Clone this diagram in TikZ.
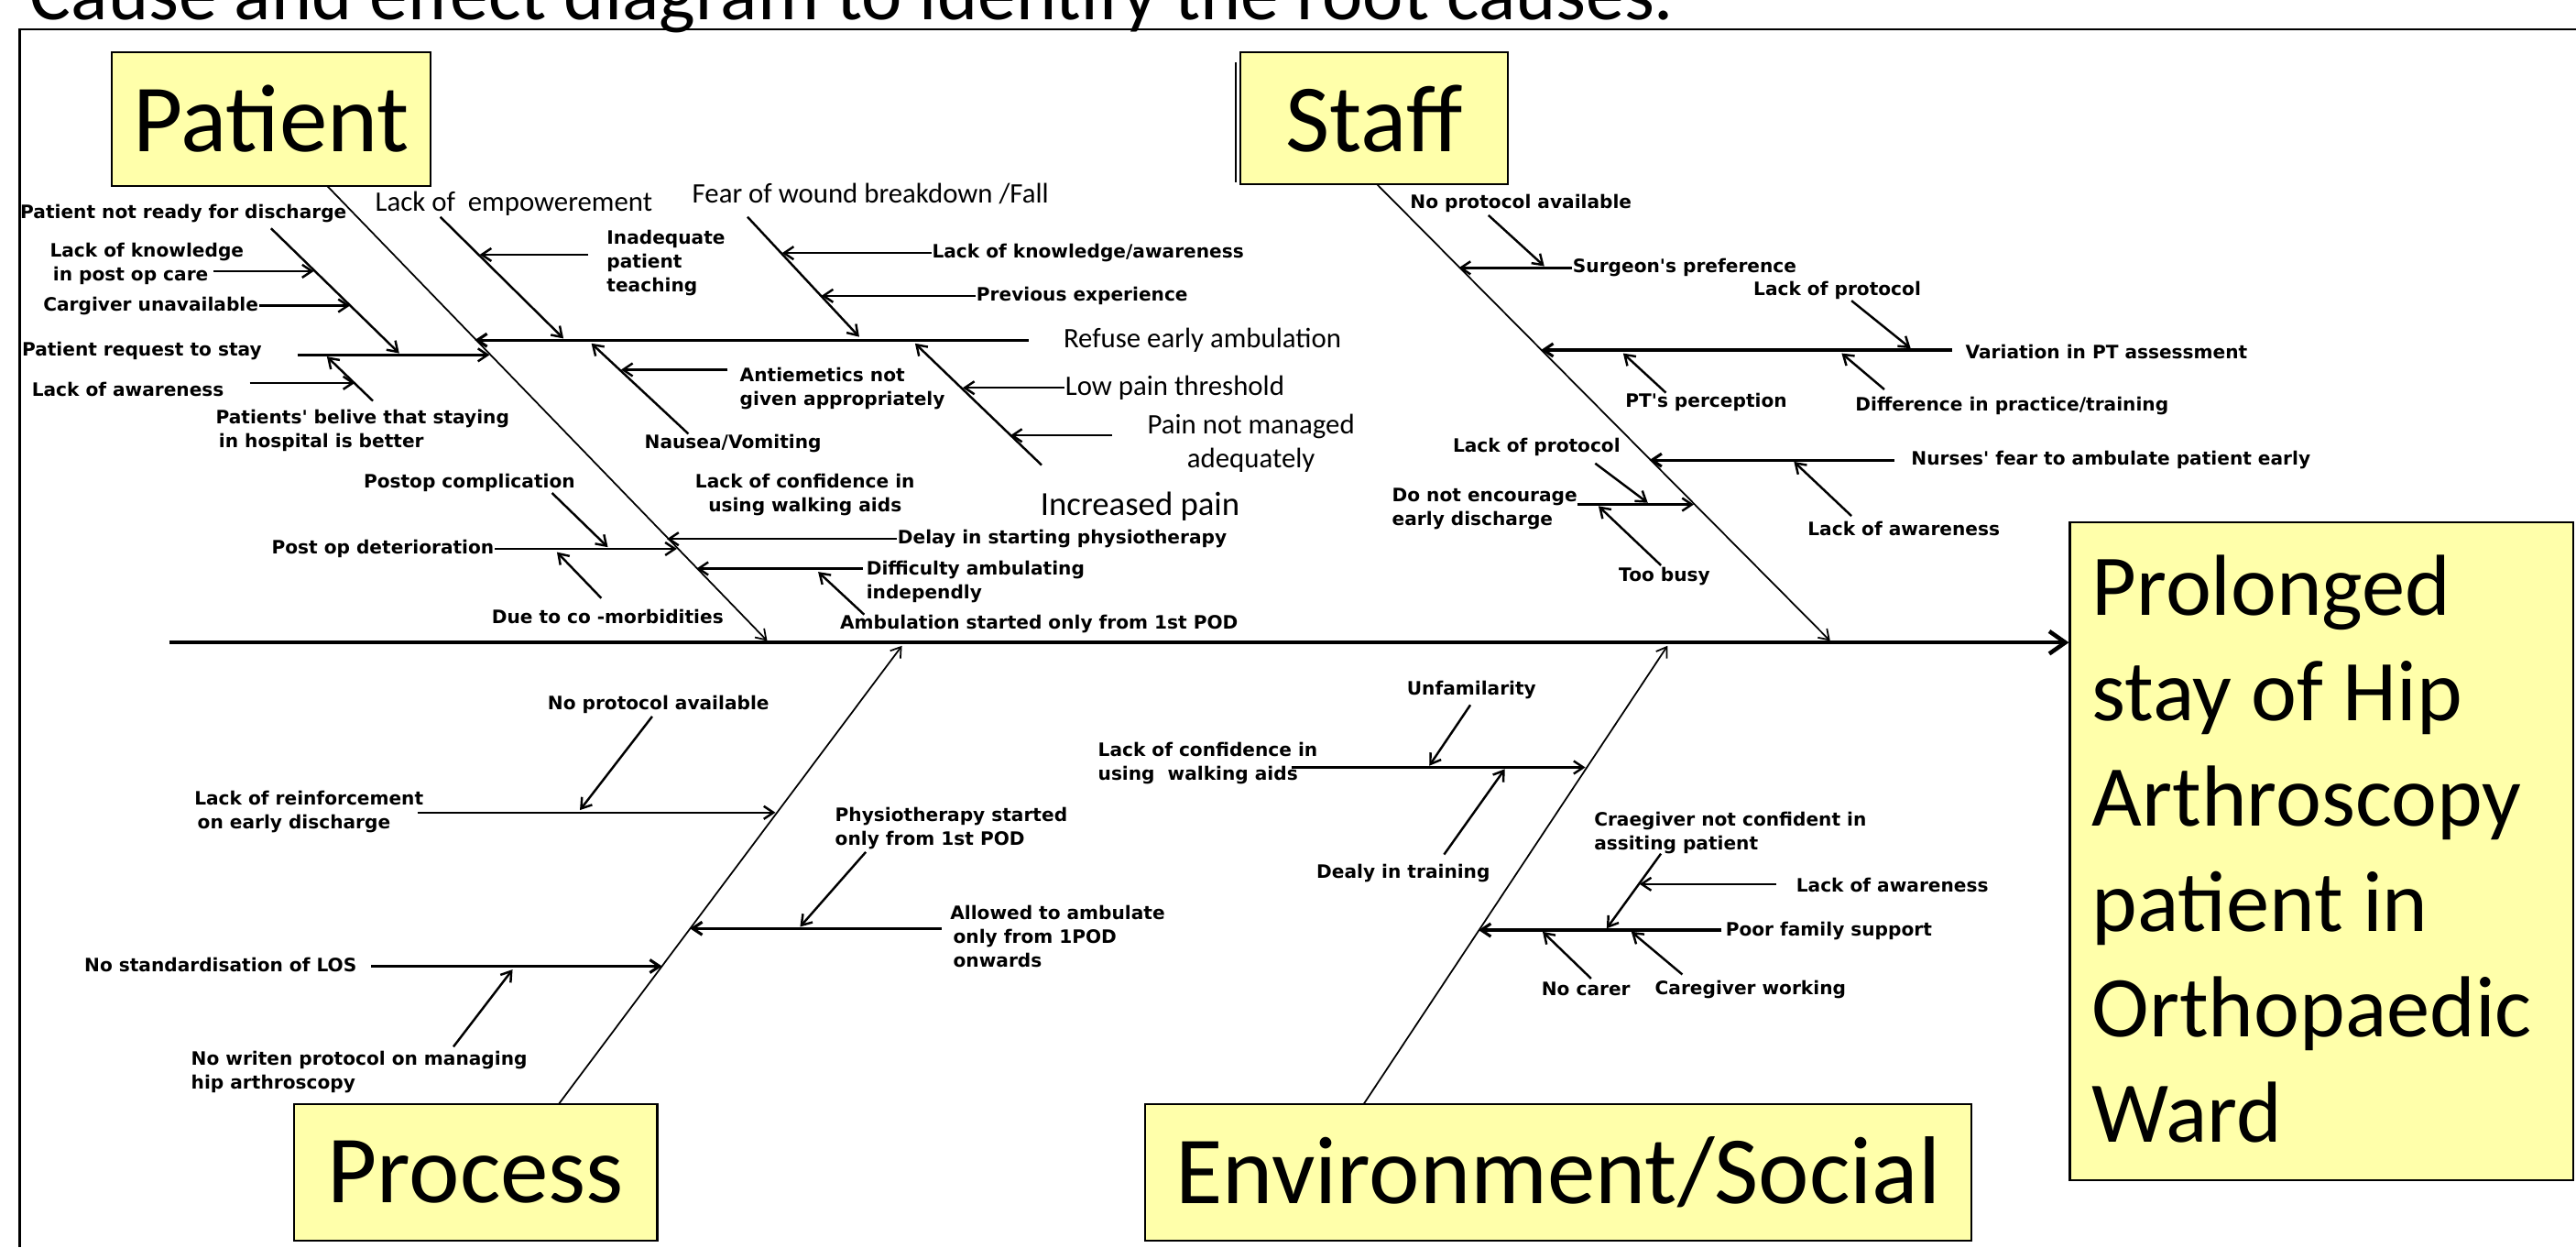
\documentclass[tikz,border=0pt]{standalone}
\usepackage{fontspec}
\setmainfont{Carlito}
\newfontfamily\causefont{DejaVu Sans}
\usetikzlibrary{arrows.meta,calc}
\definecolor{notepad}{RGB}{255,255,170}

\tikzset{
  catbox/.style={draw=black, fill=notepad, line width=0.6pt, inner sep=0pt,
    font=\fontsize{30}{36}\selectfont},
  cause/.style={font=\causefont\bfseries\fontsize{5.75}{7.4}\selectfont,
    inner sep=0pt, anchor=west},
  subcause/.style={font=\fontsize{8.8}{10.6}\selectfont, inner sep=0pt, anchor=west},
  bone/.style={line width=0.5pt, -{Straight Barb[length=3pt,width=4pt]}},
  arr/.style={line width=0.7pt, -{Straight Barb[length=3pt,width=4pt]}},
  spine/.style={line width=1.3pt, -{Straight Barb[length=5pt,width=7pt]}}
}

\begin{document}
\begin{tikzpicture}[x=0.18mm,y=-0.18mm]
\useasboundingbox (0,0) rectangle (1568,759);
\clip (0,0) rectangle (1568,759);

% title, cut by the top edge
\node[anchor=base west, inner sep=0pt, font=\fontsize{24}{29}\selectfont] (title)
  at (18,12) {Cause and effect diagram to identify the root causes.};
\draw[line width=0.6pt] (12,759) -- (12,18) -- (1568,18);

% category boxes
\node[catbox, minimum width=34.9mm, minimum height=14.6mm] (patient) at (165,72.5) {Patient};
\draw[line width=0.6pt] (752,38) -- (752,111);
\node[catbox, minimum width=29.3mm, minimum height=14.4mm] (staff) at (836.5,72) {Staff};
\node[catbox, minimum width=39.8mm, minimum height=14.9mm] (process) at (289.5,713.5) {Process};
\node[catbox, minimum width=90.5mm, minimum height=14.9mm] (envsoc) at (948.5,713.5) {Environment/Social};

% effect
\node[catbox, minimum width=55.1mm, minimum height=72mm] (effect) at (1413,518) {};
\begin{scope}[every node/.style={anchor=base west, inner sep=0pt, font=\fontsize{27}{33}\selectfont}]
\node (eff1) at (1273,374.5) {Prolonged};
\node (eff2) at (1273,438.6) {stay of Hip};
\node (eff3) at (1273,502.7) {Arthroscopy};
\node (eff4) at (1273,566.8) {patient in};
\node (eff5) at (1273,630.9) {Orthopaedic};
\node (eff6) at (1273,695) {Ward};
\end{scope}

% spine and bones
\coordinate (tail) at (103,391);
\draw[spine] (tail) -- (tail -| effect.west);

\coordinate (pb0) at (199,113);
\coordinate (pb1) at (467,390);
\coordinate (sb0) at (838,112);
\coordinate (sb1) at (1114,390);
\coordinate (qb0) at (340,672);
\coordinate (qb1) at (549,393);
\coordinate (eb0) at (830,672);
\coordinate (eb1) at (1015,393);
\draw[bone] (pb0) -- (pb1);
\draw[bone] (sb0) -- (sb1);
\draw[bone] (qb0) -- (qb1);
\draw[bone] (eb0) -- (eb1);

% ---- Patient ----
\node[cause] (notready) at (12,130) {Patient not ready for discharge};
\coordinate (nr0) at (165,139);
\coordinate (nr1) at (243,215);
\draw[arr] (nr0) -- (nr1);

\node[cause, align=left] (knowpost) at (30,160.5) {Lack of knowledge\\ \,in post op care};
\coordinate (kp0) at (130,165);
\coordinate (kp1) at (191,165);
\draw[arr] (kp0) -- (kp1);

\node[cause] (cargiver) at (26,186) {Cargiver unavailable};
\coordinate (cg1) at (213,186);
\draw[arr] (cargiver.east) -- (cg1);

\node[cause] (reqstay) at (13,213.5) {Patient request to stay};
\coordinate (rs0) at (181,216);
\coordinate (rs1) at (298,216);
\draw[arr] (rs0) -- (rs1);

\node[cause] (lackaw1) at (19,237) {Lack of awareness};
\coordinate (la0) at (152,233);
\coordinate (la1) at (216,233);
\draw[arr] (la0) -- (la1);

\node[cause, align=left] (belief) at (131,262) {Patients' belive that staying\\ \,in hospital is better};
\coordinate (bl0) at (227,244);
\coordinate (bl1) at (199,217);
\draw[arr] (bl0) -- (bl1);

\node[subcause] (empower) at (228,124) {Lack of\ \ empowerement};
\coordinate (em0) at (268,132);
\coordinate (em1) at (343,206);
\draw[arr] (em0) -- (em1);

\node[cause, align=left] (teaching) at (369,160) {Inadequate\\patient\\teaching};
\coordinate (te0) at (358,155);
\coordinate (te1) at (292,155);
\draw[arr] (te0) -- (te1);

\node[subcause] (refuse) at (647,207) {Refuse early ambulation};
\coordinate (rf0) at (626,207);
\coordinate (rf1) at (289,207);
\draw[arr, line width=0.9pt] (rf0) -- (rf1);

\node[subcause] (fear) at (421,118) {Fear of wound breakdown /Fall};
\coordinate (fe0) at (455,132);
\coordinate (fe1) at (523,205);
\draw[arr] (fe0) -- (fe1);

\node[cause] (knowaw) at (567,154) {Lack of knowledge/awareness};
\coordinate (ka1) at (476,154);
\draw[arr] (knowaw.west) -- (ka1);

\node[cause] (prevexp) at (594,180) {Previous experience};
\coordinate (pe1) at (500,180);
\draw[arr] (prevexp.west) -- (pe1);

\node[cause] (nausea) at (392,270) {Nausea/Vomiting};
\coordinate (na0) at (419,264);
\coordinate (na1) at (360,209);
\draw[arr] (na0) -- (na1);

\node[cause, align=left] (antiem) at (450,236.5) {Antiemetics not\\given appropriately};
\coordinate (an0) at (443,225);
\coordinate (an1) at (378,225);
\draw[arr] (an0) -- (an1);

\node[subcause, font=\fontsize{10.5}{12.6}\selectfont] (incpain) at (633,308) {Increased pain};
\coordinate (ip0) at (634,283);
\coordinate (ip1) at (557,209);
\draw[arr] (ip0) -- (ip1);

\node[subcause] (lowpain) at (648,236) {Low pain threshold};
\coordinate (lp1) at (586,236);
\draw[arr] (lowpain.west) -- (lp1);

\node[subcause, anchor=center, align=center] (painnot) at (761.5,270) {Pain not managed\\adequately};
\coordinate (pn0) at (677,265);
\coordinate (pn1) at (615,265);
\draw[arr] (pn0) -- (pn1);

\node[cause] (postcomp) at (221,294) {Postop complication};
\coordinate (pc0) at (336,300);
\coordinate (pc1) at (370,333);
\draw[arr] (pc0) -- (pc1);

\node[cause] (postdet) at (165,334) {Post op deterioration};
\coordinate (pd1) at (412,334);
\draw[arr] (postdet.east) -- (pd1);

\node[cause] (comorb) at (299,375) {Due to co -morbidities};
\coordinate (cm0) at (366,364);
\coordinate (cm1) at (339,336);
\draw[arr] (cm0) -- (cm1);

\node[cause, anchor=center, align=center] (aidconf) at (490,301) {Lack of confidence in\\using walking aids};

\node[cause] (delay) at (546,328) {Delay in starting physiotherapy};
\coordinate (dl1) at (406,328);
\draw[arr] (delay.west) -- (dl1);

\node[cause, align=left] (diffamb) at (527,354) {Difficulty ambulating\\independly};
\coordinate (da0) at (525,346);
\coordinate (da1) at (424,346);
\draw[arr] (da0) -- (da1);

\node[cause] (ambstart) at (511,380) {Ambulation started only from 1st POD};
\coordinate (as0) at (526,374);
\coordinate (as1) at (498,348);
\draw[arr] (as0) -- (as1);

% ---- Staff ----
\node[cause] (noprot1) at (858,124) {No protocol available};
\coordinate (np0) at (906,131);
\coordinate (np1) at (940,162);
\draw[arr] (np0) -- (np1);

\node[cause] (surgeon) at (957,163) {Surgeon's preference};
\coordinate (su1) at (888,163);
\draw[arr] (surgeon.west) -- (su1);

\node[cause] (lackprot1) at (1067,177) {Lack of protocol};
\coordinate (lq0) at (1127,183);
\coordinate (lq1) at (1163,212);
\draw[arr] (lq0) -- (lq1);

\node[cause] (ptvar) at (1196,214) {Variation in PT assessment};
\coordinate (pv0) at (1188,213);
\coordinate (pv1) at (938,213);
\draw[arr, line width=0.9pt] (pv0) -- (pv1);

\node[cause] (ptperc) at (989,245) {PT's perception};
\coordinate (pp0) at (1014,239);
\coordinate (pp1) at (988,215);
\draw[arr] (pp0) -- (pp1);

\node[cause] (diffprac) at (1129,247) {Difference in practice/training};
\coordinate (dp0) at (1147,237);
\coordinate (dp1) at (1121,215);
\draw[arr] (dp0) -- (dp1);

\node[cause] (lackprot2) at (884,272) {Lack of protocol};
\node[cause] (nursefear) at (1163,280) {Nurses' fear to ambulate patient early};
\coordinate (nf0) at (1153,280);
\coordinate (nf1) at (1004,280);
\draw[arr, line width=0.9pt] (nf0) -- (nf1);
\coordinate (lr0) at (971,282);
\coordinate (lr1) at (1003,306);
\draw[arr] (lr0) -- (lr1);

\node[cause, align=left] (noencour) at (847,309.5) {Do not encourage\\early discharge};
\coordinate (ne0) at (960,307);
\coordinate (ne1) at (1031,307);
\draw[arr] (ne0) -- (ne1);

\node[cause] (toobusy) at (985,351) {Too busy};
\coordinate (tb0) at (1011,344);
\coordinate (tb1) at (973,308);
\draw[arr] (tb0) -- (tb1);

\node[cause] (lackaw2) at (1100,322) {Lack of awareness};
\coordinate (lw0) at (1127,314);
\coordinate (lw1) at (1092,281);
\draw[arr] (lw0) -- (lw1);

% ---- Process ----
\node[cause] (noprot2) at (333,429) {No protocol available};
\coordinate (nq0) at (397,436);
\coordinate (nq1) at (353,493);
\draw[arr] (nq0) -- (nq1);

\node[cause, align=left] (reinforce) at (118,494) {Lack of reinforcement\\ \,on early discharge};
\coordinate (ri0) at (254,494.5);
\coordinate (ri1) at (472,494.5);
\draw[arr] (ri0) -- (ri1);

\node[cause, align=left] (physio) at (508,504) {Physiotherapy started\\only from 1st POD};
\coordinate (ph0) at (527,518.5);
\coordinate (ph1) at (487,564);
\draw[arr] (ph0) -- (ph1);

\node[cause, align=left] (allowed) at (578,570) {Allowed to ambulate\\ \,only from 1POD\\ \,onwards};
\coordinate (al0) at (573,565);
\coordinate (al1) at (420,565);
\draw[arr, line width=0.9pt] (al0) -- (al1);

\node[cause] (nostd) at (51,587) {No standardisation of LOS};
\coordinate (ns0) at (226,588);
\coordinate (ns1) at (403,588);
\draw[arr, line width=0.9pt] (ns0) -- (ns1);

\node[cause, align=left] (nowritten) at (116,652.5) {No writen protocol on managing\\hip arthroscopy};
\coordinate (nw0) at (276,637);
\coordinate (nw1) at (312,590);
\draw[arr] (nw0) -- (nw1);

% ---- Environment/Social ----
\node[cause] (unfam) at (856,420) {Unfamilarity};
\coordinate (uf0) at (895,429);
\coordinate (uf1) at (870,466);
\draw[arr] (uf0) -- (uf1);

\node[cause, align=left] (aidconf2) at (668,464.5) {Lack of confidence in\\using\ \ walking aids};
\coordinate (ac0) at (786,467);
\coordinate (ac1) at (965,467);
\draw[arr] (ac0) -- (ac1);

\node[cause] (dealy) at (801,531.5) {Dealy in training};
\coordinate (dt0) at (879,520);
\coordinate (dt1) at (916,468);
\draw[arr] (dt0) -- (dt1);

\node[cause, align=left] (craegiver) at (970,507) {Craegiver not confident in\\assiting patient};
\coordinate (cr0) at (1011,519.5);
\coordinate (cr1) at (978,565);
\draw[arr] (cr0) -- (cr1);

\node[cause] (lackaw3) at (1093,538.5) {Lack of awareness};
\coordinate (lx0) at (1081,538);
\coordinate (lx1) at (998,538);
\draw[arr] (lx0) -- (lx1);

\node[cause] (poorfam) at (1050,566.5) {Poor family support};
\coordinate (pf0) at (1048,566);
\coordinate (pf1) at (900,566);
\draw[arr, line width=0.9pt] (pf0) -- (pf1);

\node[cause] (nocarer) at (938,602) {No carer};
\coordinate (nc0) at (968.5,595.5);
\coordinate (nc1) at (939,567);
\draw[arr] (nc0) -- (nc1);

\node[cause] (cgwork) at (1007,602) {Caregiver working};
\coordinate (cw0) at (1024,593);
\coordinate (cw1) at (993,567);
\draw[arr] (cw0) -- (cw1);

\end{tikzpicture}
\end{document}
